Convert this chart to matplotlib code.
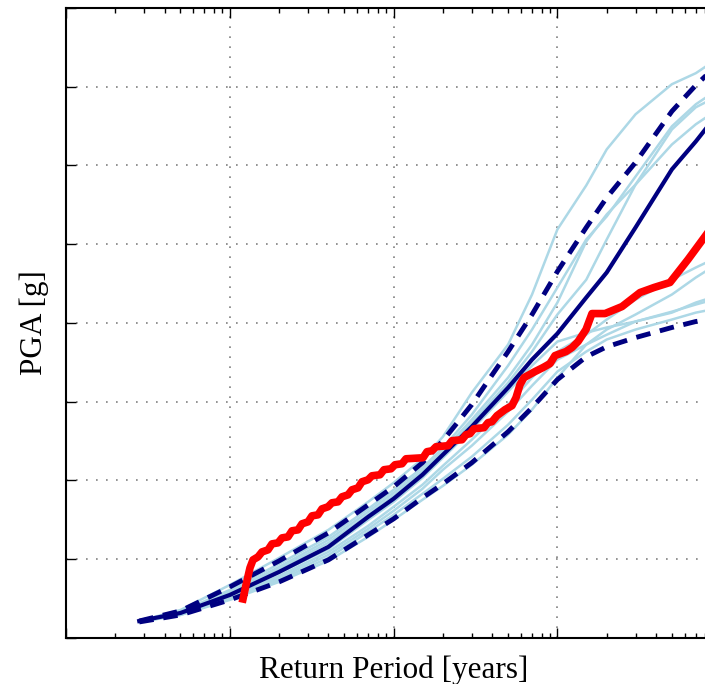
import numpy as np
from matplotlib import pyplot as plt


# return periods [years] shared by the simulated curves
periods = [28, 50, 100, 200, 400, 700, 1000, 1500, 2000, 3000, 5000, 7000,
           10000, 15000, 20000, 30000, 50000, 70000, 100000]

# PGA [g] of the individual simulations (light blue)
sims = [
    [0.0212, 0.0352, 0.0670, 0.1014, 0.1370, 0.1726, 0.1968, 0.2273, 0.2553, 0.3113,
     0.3724, 0.4360, 0.5187, 0.5746, 0.6204, 0.6650, 0.7032, 0.7172, 0.7388],
    [0.0212, 0.0327, 0.0607, 0.0938, 0.1281, 0.1637, 0.1879, 0.2159, 0.2413, 0.2833,
     0.3457, 0.3915, 0.4449, 0.5059, 0.5352, 0.5859, 0.6497, 0.6777, 0.6993],
    [0.0212, 0.0327, 0.0581, 0.0900, 0.1243, 0.1599, 0.1841, 0.2121, 0.2375, 0.2770,
     0.3304, 0.3724, 0.4258, 0.5034, 0.5378, 0.5757, 0.6266, 0.6523, 0.6739],
    [0.0212, 0.0327, 0.0569, 0.0874, 0.1205, 0.1561, 0.1803, 0.2095, 0.2350, 0.2732,
     0.3240, 0.3635, 0.4106, 0.4548, 0.5059, 0.5757, 0.6457, 0.6739, 0.6904],
    [0.0212, 0.0314, 0.0518, 0.0785, 0.1090, 0.1421, 0.1663, 0.1943, 0.2184, 0.2515,
     0.2961, 0.3304, 0.3635, 0.3849, 0.4042, 0.4295, 0.4548, 0.4703, 0.4856],
    [0.0212, 0.0302, 0.0505, 0.0760, 0.1052, 0.1383, 0.1612, 0.1892, 0.2134, 0.2439,
     0.2872, 0.3202, 0.3533, 0.3724, 0.3915, 0.4106, 0.4360, 0.4576, 0.4780],
    [0.0212, 0.0314, 0.0543, 0.0823, 0.1128, 0.1497, 0.1726, 0.2031, 0.2286, 0.2643,
     0.3127, 0.3457, 0.3762, 0.3875, 0.3941, 0.4017, 0.4130, 0.4258, 0.4360],
    [0.0200, 0.0289, 0.0492, 0.0734, 0.1014, 0.1345, 0.1561, 0.1828, 0.2019, 0.2299,
     0.2706, 0.3024, 0.3381, 0.3635, 0.3788, 0.3915, 0.4042, 0.4130, 0.4193],
    [0.0200, 0.0289, 0.0480, 0.0709, 0.0976, 0.1281, 0.1497, 0.1752, 0.1929, 0.2197,
     0.2579, 0.2897, 0.3304, 0.3724, 0.3849, 0.4017, 0.4142, 0.4233, 0.4322],
]

pga_mean = [0.0212, 0.0314, 0.0543, 0.0836, 0.1154, 0.1536, 0.1765, 0.2070, 0.2325, 0.2681,
            0.3177, 0.3533, 0.3864, 0.4322, 0.4640, 0.5212, 0.5950, 0.6305, 0.6714]
pga_upper = [0.0212, 0.0340, 0.0645, 0.0976, 0.1332, 0.1688, 0.1917, 0.2223, 0.2503, 0.2961,
             0.3635, 0.4106, 0.4653, 0.5212, 0.5591, 0.6039, 0.6688, 0.7019, 0.7324]
pga_lower = [0.0200, 0.0289, 0.0480, 0.0709, 0.0989, 0.1307, 0.1510, 0.1777, 0.1955, 0.2223,
             0.2617, 0.2923, 0.3279, 0.3569, 0.3696, 0.3813, 0.3941, 0.4017, 0.4068]

# observed (red) curve
obs_period = [120.4, 125.6, 132.8, 138.6, 148.7, 157.3, 171.1, 181.0, 197.0, 208.4,
              226.7, 239.8, 260.9, 276.0, 300.3, 317.6, 345.5, 365.5, 397.7, 420.6,
              457.7, 484.2, 526.8, 557.2, 606.4, 641.5, 697.8, 738.1, 826.0, 873.7,
              964.0, 1019.8, 1125, 1190, 1512, 1599, 1716, 1815, 2148, 2272,
              2616, 2767, 2927, 3096, 3564, 3770, 3987, 4279, 4786, 5283,
              5588, 5911, 6252, 7298, 8167, 9012, 9667, 11280, 12280, 13360,
              14950, 16260, 19530, 24800, 31940, 38880, 48690, 62720, 79640, 92960]
obs_pga = [0.0492, 0.0670, 0.0887, 0.0989, 0.1027, 0.1090, 0.1116, 0.1192, 0.1205, 0.1268,
           0.1281, 0.1358, 0.1370, 0.1447, 0.1472, 0.1548, 0.1561, 0.1637, 0.1663, 0.1714,
           0.1726, 0.1790, 0.1815, 0.1879, 0.1904, 0.1981, 0.2006, 0.2057, 0.2070, 0.2134,
           0.2146, 0.2197, 0.2210, 0.2273, 0.2286, 0.2363, 0.2375, 0.2426, 0.2439, 0.2503,
           0.2515, 0.2579, 0.2592, 0.2655, 0.2668, 0.2732, 0.2744, 0.2821, 0.2897, 0.2948,
           0.3050, 0.3215, 0.3304, 0.3381, 0.3432, 0.3482, 0.3584, 0.3635, 0.3686, 0.3762,
           0.3915, 0.4118, 0.4118, 0.4207, 0.4385, 0.4449, 0.4513, 0.4805, 0.5098, 0.5289]

plt.rcParams['font.family'] = ['Liberation Serif', 'DejaVu Serif']

fig = plt.figure(figsize=(7.05, 6.84), dpi=100)
# the right part of the axes runs past the figure edge, as in the original crop
ax = fig.add_axes([0.0936, 0.0677, 0.9294, 0.9206])

for s in sims:
    ax.plot(periods, s, color='lightblue', lw=1.8, zorder=2)

ax.plot(periods, pga_upper, color='navy', lw=3.5, dashes=(3, 2), zorder=3)
ax.plot(periods, pga_lower, color='navy', lw=3.5, dashes=(3, 2), zorder=3)
ax.plot(periods, pga_mean, color='navy', lw=3, zorder=4)
ax.plot(obs_period, obs_pga, color='red', lw=5.5, zorder=5)

ax.set_xscale('log')
ax.set_xlim(10, 1e5)
ax.set_ylim(0, 0.8)
ax.set_yticks(np.arange(0, 0.81, 0.1))

ax.grid(True, which='major', linestyle=(0, (1, 5)), color='gray', lw=1.2)
ax.tick_params(which='both', direction='in', top=True, right=True,
               labelbottom=False, labelleft=False, width=1)
ax.tick_params(which='major', length=7)
ax.tick_params(which='minor', length=3.5)
for sp in ax.spines.values():
    sp.set_linewidth(1.5)

ax.set_xlabel('Return Period [years]', fontsize=22.5, labelpad=13)
ax.set_ylabel('PGA [g]', fontsize=22.5, labelpad=12)

fig.savefig('out.png', dpi=100)
